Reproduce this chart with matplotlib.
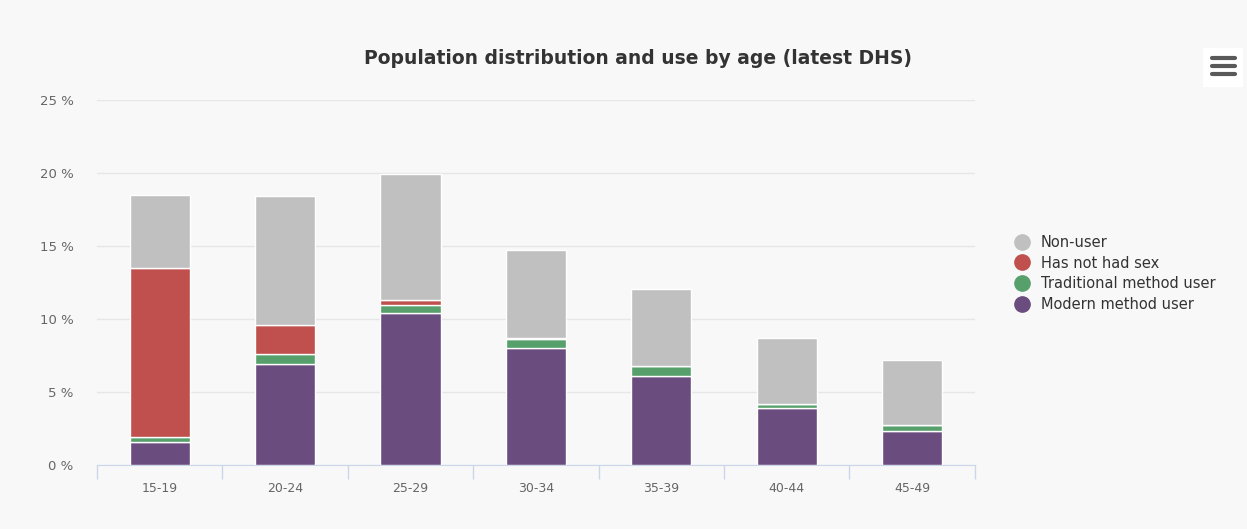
import numpy as np
import matplotlib.pyplot as plt
from matplotlib.lines import Line2D
from matplotlib.patches import Rectangle

ages = ['15-19', '20-24', '25-29', '30-34', '35-39', '40-44', '45-49']
modern = [1.6, 6.9, 10.4, 8.0, 6.1, 3.9, 2.3]
traditional = [0.3, 0.7, 0.55, 0.65, 0.7, 0.3, 0.45]
not_had_sex = [11.6, 2.0, 0.35, 0.05, 0.0, 0.0, 0.0]
non_user = [5.0, 8.85, 8.6, 6.05, 5.27, 4.5, 4.45]

bg = '#f8f8f8'
colors = {'Modern method user': '#6a4c7e',
          'Traditional method user': '#57a06b',
          'Has not had sex': '#bf504d',
          'Non-user': '#c0c0c0'}

fig = plt.figure(figsize=(12.47, 5.29), dpi=100, facecolor=bg)
ax = fig.add_axes([0.0778, 0.121, 0.704, 0.690], facecolor=bg)

x = np.arange(len(ages))
bottom = np.zeros(len(ages))
series = [('Modern method user', modern), ('Traditional method user', traditional),
          ('Has not had sex', not_had_sex), ('Non-user', non_user)]
for name, vals in series:
    vals = np.array(vals)
    ax.bar(x, vals, 0.48, bottom=bottom, color=colors[name], edgecolor='white',
           linewidth=1, zorder=3)
    bottom += vals

ax.set_xlim(-0.5, len(ages) - 0.5)
ax.set_ylim(0, 25)
ax.set_yticks([0, 5, 10, 15, 20, 25])
ax.set_yticklabels([f'{v} %' for v in [0, 5, 10, 15, 20, 25]])
ax.grid(axis='y', color='#e6e6e6', linewidth=1, zorder=0)
ax.tick_params(axis='y', length=0, pad=17, labelsize=9.5, labelcolor='#666666')
for s in ['top', 'right', 'left']:
    ax.spines[s].set_visible(False)
ax.spines['bottom'].set_color('#ccd6eb')

ax.set_xticks(x)
ax.set_xticklabels(ages)
ax.tick_params(axis='x', length=0, pad=12, labelsize=9, labelcolor='#666666')
ax.set_xticks(np.arange(-0.5, len(ages)), minor=True)
ax.tick_params(axis='x', which='minor', length=10, color='#ccd6eb', width=1)

fig.text(0.512, 0.89, 'Population distribution and use by age (latest DHS)',
         ha='center', va='center', fontsize=13.5, fontweight='bold', color='#333333',
         family='DejaVu Sans')

labels = ['Non-user', 'Has not had sex', 'Traditional method user', 'Modern method user']
handles = [Line2D([], [], marker='o', linestyle='', markersize=11,
                  color=colors[n]) for n in labels]
leg = fig.legend(handles, labels, loc='center left', bbox_to_anchor=(0.802, 0.483),
                 frameon=False, fontsize=10.5, labelspacing=0.4, handletextpad=0.7,
                 handlelength=1.2, labelcolor='#333333')

# menu icon
fig.add_artist(Rectangle((0.965, 0.835), 0.032, 0.075, transform=fig.transFigure,
                         facecolor='white', edgecolor='none'))
for yy in [0.89, 0.875, 0.86]:
    fig.add_artist(Line2D([0.972, 0.990], [yy, yy], color='#595959', linewidth=3,
                          solid_capstyle='round'))

fig.savefig('out.png', dpi=100, facecolor=bg)
